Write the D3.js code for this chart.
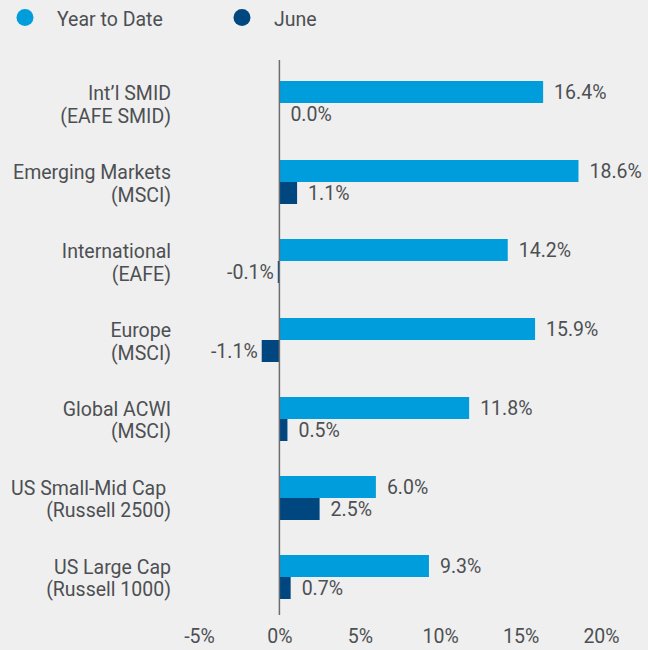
<!DOCTYPE html>
<html>
<head>
<meta charset="utf-8">
<script src="https://cdn.jsdelivr.net/npm/d3@7"></script>
<style>
  body { margin: 0; background: #efefef; }
  svg { display: block; font-family: "Roboto", "Liberation Sans", sans-serif; }
  .lbl { fill: #4d4f53; font-size: 19.5px; white-space: pre; }
</style>
</head>
<body>
<div id="chart"></div>
<script>
const categories = [
  ["Int\u2019l SMID", "(EAFE SMID)"],
  ["Emerging Markets", "(MSCI)"],
  ["International", "(EAFE)"],
  ["Europe", "(MSCI)"],
  ["Global ACWI", "(MSCI)"],
  ["US Small-Mid Cap ", "(Russell 2500)"],
  ["US Large Cap", "(Russell 1000)"]
];
const ytd = [16.4, 18.6, 14.2, 15.9, 11.8, 6.0, 9.3];
const june = [0.0, 1.1, -0.1, -1.1, 0.5, 2.5, 0.7];
const seriesNames = ["Year to Date", "June"];
const ticks = [-5, 0, 5, 10, 15, 20];

const width = 648;
const height = 650;
const colors = ["#009ddc", "#00467f"];

const svg = d3.select("#chart").append("svg")
  .attr("width", width)
  .attr("height", height);

const x = d3.scaleLinear().domain([-5, 20]).range([199, 601]);
const y = d3.scaleBand()
  .domain(d3.range(categories.length))
  .range([81, 599])
  .paddingInner(0.443)
  .paddingOuter(0);
const sub = d3.scaleBand().domain([0, 1]).range([0, y.bandwidth()]);

// legend
const legend = svg.append("g").attr("class", "legend");
const legX = [25, 242];
seriesNames.forEach((name, i) => {
  legend.append("circle")
    .attr("cx", legX[i])
    .attr("cy", 17.5)
    .attr("r", 8.5)
    .attr("fill", colors[i]);
  legend.append("text")
    .attr("class", "lbl")
    .attr("x", legX[i] + 32)
    .attr("y", 25.5)
    .text(name);
});

// category labels
const catG = svg.append("g");
categories.forEach((lines, i) => {
  const cy = y(i) + y.bandwidth() / 2;
  catG.append("text")
    .attr("class", "lbl")
    .attr("text-anchor", "end")
    .attr("x", 171)
    .attr("y", cy - 3)
    .text(lines[0]);
  catG.append("text")
    .attr("class", "lbl")
    .attr("text-anchor", "end")
    .attr("x", 171)
    .attr("y", cy + 19.5)
    .text(lines[1]);
});

// bars
const series = [ytd, june];
series.forEach((vals, s) => {
  const g = svg.append("g");
  g.selectAll("rect")
    .data(vals)
    .enter()
    .append("rect")
    .attr("x", d => x(Math.min(0, d)))
    .attr("y", (d, i) => y(i) + sub(s))
    .attr("width", d => Math.abs(x(d) - x(0)))
    .attr("height", sub.bandwidth())
    .attr("fill", colors[s]);
  g.selectAll("text")
    .data(vals)
    .enter()
    .append("text")
    .attr("class", "lbl")
    .attr("x", d => d < 0 ? x(d) - 4 : x(d) + 11)
    .attr("y", (d, i) => y(i) + sub(s) + sub.bandwidth() / 2 + 7)
    .attr("text-anchor", d => d < 0 ? "end" : "start")
    .text(d => d.toFixed(1) + "%");
});

// zero line
svg.append("line")
  .attr("x1", x(0))
  .attr("x2", x(0))
  .attr("y1", 60)
  .attr("y2", 615)
  .attr("stroke", "#6d6e71")
  .attr("stroke-width", 1.5);

// x axis
const xAxis = svg.append("g")
  .attr("transform", "translate(0,643)")
  .call(d3.axisBottom(x).tickValues(ticks).tickSize(0).tickFormat(d => d + "%"));
xAxis.select(".domain").remove();
xAxis.attr("font-family", null).attr("font-size", null);
xAxis.selectAll("text")
  .attr("class", "lbl")
  .attr("y", 0)
  .attr("dy", 0);
</script>
</body>
</html>
